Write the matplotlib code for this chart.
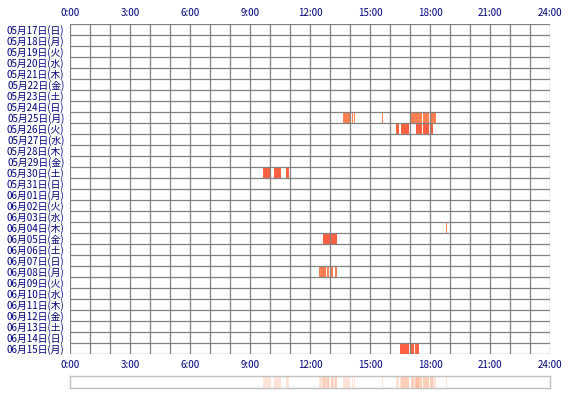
import datetime as dt
import matplotlib.pyplot as plt
from matplotlib.patches import Rectangle

plt.rcParams['font.family'] = ['Noto Sans CJK JP', 'DejaVu Sans']

# 日付ラベル (30日)
start = dt.date(2020, 5, 17)
youbi = ["月", "火", "水", "木", "金", "土", "日"]
days = [start + dt.timedelta(days=i) for i in range(30)]
day_labels = [f"{d.month:02d}月{d.day:02d}日({youbi[d.weekday()]})" for d in days]

# 活動記録: 行番号, 開始時刻, 終了時刻, 濃さ (1=濃い, 0=薄い)
ev_row = [8, 8, 8, 8, 8, 8, 8,
          9, 9, 9, 9, 9,
          13, 13, 13,
          18,
          19, 19,
          22, 22, 22, 22,
          29, 29, 29]
ev_start = [13.65, 14.08, 14.2, 15.58, 17.05, 17.65, 18.0,
            16.28, 16.53, 17.28, 17.65, 18.0,
            9.67, 10.18, 10.8,
            18.8,
            12.65, 13.05,
            12.45, 12.85, 13.05, 13.23,
            16.5, 17.05, 17.25]
ev_end = [14.0, 14.13, 14.27, 15.63, 17.58, 17.95, 18.28,
          16.47, 16.97, 17.6, 17.97, 18.13,
          10.03, 10.53, 10.93,
          18.85,
          13.0, 13.33,
          12.8, 12.93, 13.13, 13.33,
          16.97, 17.2, 17.45]
ev_tone = [0, 0, 0, 0, 0, 0, 0,
           1, 1, 1, 1, 1,
           1, 1, 1,
           0,
           1, 1,
           0, 0, 0, 0,
           1, 1, 1]

hour_ticks = list(range(0, 25, 3))
hour_labels = [f"{h}:00" for h in hour_ticks]

navy = "#000080"
W, H = 570, 400
fig = plt.figure(figsize=(W / 100, H / 100), dpi=100)
fig.patch.set_facecolor("white")

ax = fig.add_axes([70 / W, 1 - 354 / H, 480 / W, 330 / H])
ax.set_xlim(0, 24)
ax.set_ylim(len(days), 0)

for r, s, e, t in zip(ev_row, ev_start, ev_end, ev_tone):
    c = "#ff6040" if t else "#ff8050"
    ax.add_patch(Rectangle((s, r), e - s, 1, facecolor=c, edgecolor="none", zorder=1))

for h in range(25):
    ax.axvline(h, color="#808080", lw=0.9, zorder=2)
for i in range(len(days) + 1):
    ax.axhline(i, color="#808080", lw=0.9, zorder=2)

for sp in ax.spines.values():
    sp.set_visible(False)

ax.set_xticks(hour_ticks)
ax.set_xticklabels(hour_labels)
ax.tick_params(axis="x", length=0, pad=4, labelsize=7, labelcolor=navy,
               top=True, labeltop=True, bottom=False, labelbottom=True)
ax.set_yticks([i + 0.5 for i in range(len(days))])
ax.set_yticklabels(day_labels)
ax.tick_params(axis="y", length=0, pad=4, labelsize=7, labelcolor=navy)

# 下部の集計帯
ax2 = fig.add_axes([70 / W, 1 - 388 / H, 480 / W, 12 / H])
ax2.set_xlim(0, 24)
ax2.set_ylim(0, 1)
for s, e in zip(ev_start, ev_end):
    ax2.add_patch(Rectangle((s, 0), e - s, 1, facecolor="#ff9060", alpha=0.25,
                            edgecolor="none"))
for sp in ax2.spines.values():
    sp.set_color("#c0c0c0")
    sp.set_linewidth(1.0)
ax2.set_xticks([])
ax2.set_yticks([])

fig.savefig("out.png", dpi=100)
